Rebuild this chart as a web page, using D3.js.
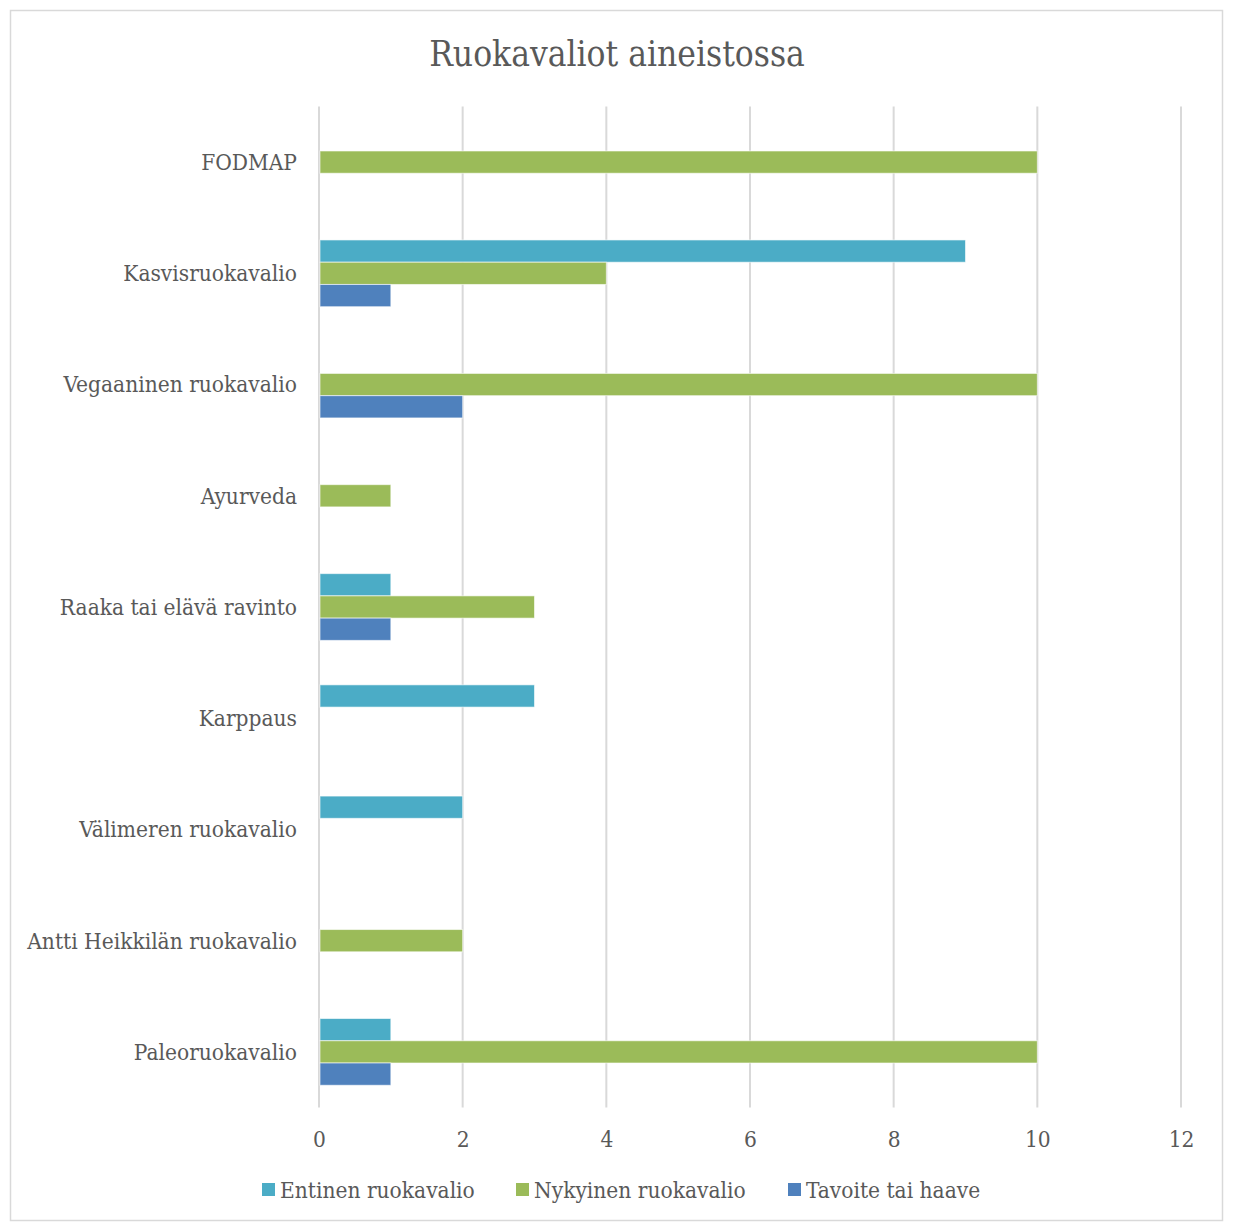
<!DOCTYPE html>
<html>
<head>
<meta charset="utf-8">
<script src="https://cdn.jsdelivr.net/npm/d3@7"></script>
<style>
  html, body { margin: 0; padding: 0; background: #fff; }
  svg { display: block; }
  text { font-family: "DejaVu Serif Condensed", "DejaVu Serif", serif; fill: #595959; }
</style>
</head>
<body>
<svg id="chart" width="1233" height="1222"></svg>
<script>
// Diet categories, top to bottom
const categories = [
  "FODMAP",
  "Kasvisruokavalio",
  "Vegaaninen ruokavalio",
  "Ayurveda",
  "Raaka tai elävä ravinto",
  "Karppaus",
  "Välimeren ruokavalio",
  "Antti Heikkilän ruokavalio",
  "Paleoruokavalio"
];

const seriesNames = ["Entinen ruokavalio", "Nykyinen ruokavalio", "Tavoite tai haave"];
const seriesColors = ["#4BACC6", "#9BBB59", "#4F81BD"];

const entinen  = [0, 9, 0, 0, 1, 3, 2, 0, 1];
const nykyinen = [10, 4, 10, 1, 3, 0, 0, 2, 10];
const tavoite  = [0, 1, 2, 0, 1, 0, 0, 0, 1];

const xTicks = [0, 2, 4, 6, 8, 10, 12];
const titleText = "Ruokavaliot aineistossa";

const seriesValues = [entinen, nykyinen, tavoite];
const rows = categories.map((c, i) => ({
  category: c,
  values: seriesValues.map((vals, s) => ({ series: seriesNames[s], value: vals[i], color: seriesColors[s] }))
}));

const svg = d3.select("#chart");
const W = 1233, H = 1222;
const margin = { left: 319, right: 52, top: 106.5, bottom: 114.5 };
const labelSize = "22.5px";

// outer chart frame
svg.append("rect")
  .attr("x", 10.5).attr("y", 10.5)
  .attr("width", 1212).attr("height", 1210)
  .attr("fill", "#fff")
  .attr("stroke", "#d9d9d9")
  .attr("stroke-width", 1.5);

svg.append("text")
  .attr("x", 617).attr("y", 66)
  .attr("text-anchor", "middle")
  .style("font-size", "35px")
  .text(titleText);

const x = d3.scaleLinear().domain([0, 12]).range([margin.left, W - margin.right]);
const y = d3.scaleBand().domain(categories).range([margin.top, H - margin.bottom]).paddingInner(0.4).paddingOuter(0.2);
const ySub = d3.scaleBand().domain(seriesNames).range([0, y.bandwidth()]);

// vertical gridlines
svg.append("g").selectAll("line").data(xTicks).join("line")
  .attr("x1", d => x(d)).attr("x2", d => x(d))
  .attr("y1", margin.top).attr("y2", H - margin.bottom)
  .attr("stroke", "#d9d9d9").attr("stroke-width", 2);

// x axis tick labels
const xAxis = d3.axisBottom(x).tickValues(xTicks).tickSize(0).tickPadding(0).tickFormat(d3.format("d"));
const gx = svg.append("g").attr("transform", `translate(0,${H - margin.bottom + 39})`).call(xAxis);
gx.select(".domain").remove();
gx.selectAll("text").attr("dy", 0).style("font-size", labelSize).attr("fill", "#595959");

// category labels
const yAxis = d3.axisLeft(y).tickSize(0).tickPadding(22);
const gy = svg.append("g").attr("transform", `translate(${margin.left},0)`).call(yAxis);
gy.select(".domain").remove();
gy.selectAll("text").style("font-size", labelSize).attr("fill", "#595959").attr("dy", "0.35em");

// bars
const groups = svg.append("g").selectAll("g").data(rows).join("g")
  .attr("transform", d => `translate(0,${y(d.category)})`);
groups.selectAll("rect").data(d => d.values.filter(v => v.value > 0)).join("rect")
  .attr("x", x(0) + 1)
  .attr("y", d => ySub(d.series))
  .attr("width", d => x(d.value) - x(0) - 1)
  .attr("height", ySub.bandwidth())
  .attr("fill", d => d.color)
  .attr("stroke", "#fff").attr("stroke-opacity", 0.6).attr("stroke-width", 1);

// legend
const legendItems = [
  { name: seriesNames[0], color: seriesColors[0], x: 262 },
  { name: seriesNames[1], color: seriesColors[1], x: 516 },
  { name: seriesNames[2], color: seriesColors[2], x: 788 }
];
const lg = svg.append("g").selectAll("g").data(legendItems).join("g")
  .attr("transform", d => `translate(${d.x},1190)`);
lg.append("rect").attr("x", 0).attr("y", -7).attr("width", 13).attr("height", 13).attr("fill", d => d.color);
lg.append("text").attr("x", 18).attr("y", 0).attr("dy", "0.35em").style("font-size", labelSize).text(d => d.name);
</script>
</body>
</html>
